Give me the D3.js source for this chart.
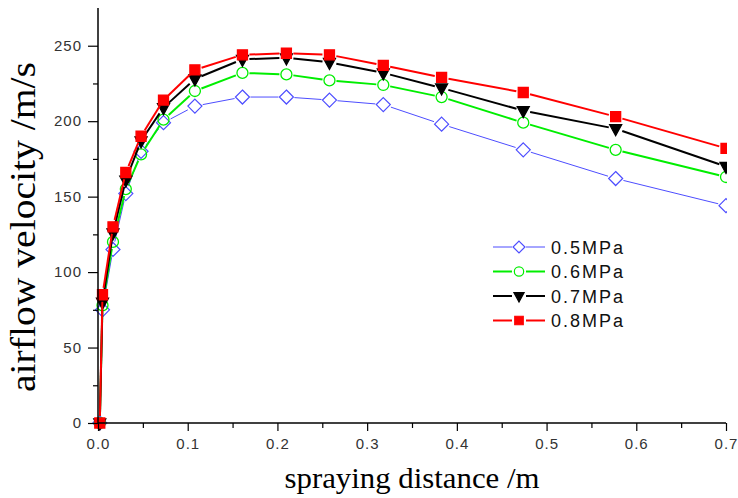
<!DOCTYPE html>
<html>
<head>
<meta charset="utf-8">
<script src="https://cdn.jsdelivr.net/npm/d3@7"></script>
<style>
  body { margin: 0; background: #fff; }
  svg { display: block; }
</style>
</head>
<body>
<div id="chart"></div>
<script>
// spraying distance (m)
const distance = [0.002, 0.005, 0.0167, 0.031, 0.048, 0.073, 0.108, 0.161, 0.21, 0.258, 0.318, 0.383, 0.474, 0.577, 0.7];

// airflow velocity (m/s) for each pressure
const v05 = [0, 75, 115, 152, 180, 199, 210, 216, 216, 214, 211, 198, 181, 162, 144];
const v06 = [0, 78, 120, 155, 178, 201, 220, 232, 231, 227, 224, 216, 199, 181, 163];
const v07 = [0, 80, 126, 161, 187, 209, 228, 241, 242, 239, 232, 222, 207, 195, 170];
const v08 = [0, 85, 130, 166, 190, 214, 234, 244, 245, 244, 237, 229, 219, 203, 182];

const seriesNames = ["0.5MPa", "0.6MPa", "0.7MPa", "0.8MPa"];
const seriesValues = [v05, v06, v07, v08];

const xTicks = [0, 0.1, 0.2, 0.3, 0.4, 0.5, 0.6, 0.7];
const yTicks = [0, 50, 100, 150, 200, 250];

const width = 738, height = 498;
const margin = {top: 8, right: 12, bottom: 75, left: 98};

const svg = d3.select("#chart").append("svg")
  .attr("width", width)
  .attr("height", height);

const x = d3.scaleLinear().domain([0, 0.7]).range([margin.left, width - margin.right]);
const y = d3.scaleLinear().domain([0, 275]).range([height - margin.bottom, margin.top]);

// marker shapes (origin-like)
const styles = [
  {color: "#4d4dff", width: 1, gap: 8, marker: "diamond", fill: "none"},
  {color: "#00ee00", width: 2, gap: 7, marker: "circle", fill: "none"},
  {color: "#000000", width: 2, gap: 7, marker: "triangle", fill: "#000"},
  {color: "#ff0000", width: 2, gap: 7, marker: "square", fill: "#ff0000"}
];

function markerPath(type, s) {
  if (type === "diamond") return `M0,${-7*s}L${7*s},0L0,${7*s}L${-7*s},0Z`;
  if (type === "square") return `M${-5*s},${-5*s}H${5*s}V${5*s}H${-5*s}Z`;
  if (type === "triangle") return `M${-6*s},${-4*s}L${6*s},${-4*s}L0,${7*s}Z`;
  const r = 5.5 * s;
  return `M${r},0A${r},${r} 0 1,1 ${-r},0A${r},${r} 0 1,1 ${r},0Z`;
}

svg.append("clipPath").attr("id", "plotclip")
  .append("rect")
  .attr("x", 0).attr("y", 0)
  .attr("width", x(0.7) + 1).attr("height", height);

const plot = svg.append("g").attr("clip-path", "url(#plotclip)");

seriesValues.forEach((vals, si) => {
  const st = styles[si];
  const pts = distance.map((d, i) => [x(d), y(vals[i])]);
  const g = plot.append("g");

  // line segments broken around the markers
  const segs = [];
  for (let i = 0; i < pts.length - 1; i++) {
    const [x0, y0] = pts[i], [x1, y1] = pts[i + 1];
    const len = Math.hypot(x1 - x0, y1 - y0);
    if (len <= st.gap * 2) continue;
    const ux = (x1 - x0) / len, uy = (y1 - y0) / len;
    segs.push([x0 + ux * st.gap, y0 + uy * st.gap, x1 - ux * st.gap, y1 - uy * st.gap]);
  }
  g.selectAll("line").data(segs).join("line")
    .attr("x1", d => d[0]).attr("y1", d => d[1])
    .attr("x2", d => d[2]).attr("y2", d => d[3])
    .attr("stroke", st.color)
    .attr("stroke-width", st.width);

  g.selectAll("path").data(pts).join("path")
    .attr("transform", d => `translate(${d[0]},${d[1]})`)
    .attr("d", markerPath(st.marker, 1))
    .attr("fill", st.fill)
    .attr("stroke", st.color)
    .attr("stroke-width", st.marker === "diamond" ? 1.2 : 1.3);
});

// axes
const xAxis = d3.axisBottom(x).tickValues(xTicks).tickFormat(d3.format(".1f")).tickSize(8).tickPadding(7);
const xMinor = d3.axisBottom(x).tickValues(d3.range(0.05, 0.7, 0.1)).tickSize(5).tickFormat("");
const yAxis = d3.axisLeft(y).tickValues(yTicks).tickSize(10).tickPadding(6);
const yMinor = d3.axisLeft(y).tickValues(d3.range(25, 275, 50)).tickSize(5).tickFormat("");

function styleAxis(g) {
  g.select(".domain").attr("stroke", "#000").attr("stroke-width", 1.5);
  g.selectAll(".tick line").attr("stroke", "#000").attr("stroke-width", 1.2);
  g.selectAll("text")
    .attr("fill", "#333")
    .style("font-family", "Liberation Sans, Arial, sans-serif")
    .style("font-size", "15px")
    .style("letter-spacing", "1px");
}

svg.append("g").attr("transform", `translate(0,${y(0)})`).call(xAxis).call(styleAxis)
  .call(g => g.select(".domain").attr("d", `M${x(0)},0H${x(0.7)}`));
svg.append("g").attr("transform", `translate(0,${y(0)})`).call(xMinor).call(styleAxis)
  .call(g => g.select(".domain").remove());
svg.append("g").attr("transform", `translate(${x(0)},0)`).call(yAxis).call(styleAxis)
  .call(g => g.select(".domain").attr("d", `M0,${y(0)}V${y(275)}`));
svg.append("g").attr("transform", `translate(${x(0)},0)`).call(yMinor).call(styleAxis)
  .call(g => g.select(".domain").remove());

// axis titles
svg.append("text")
  .attr("x", 412).attr("y", 488)
  .attr("text-anchor", "middle")
  .style("font-family", "Liberation Serif, Times New Roman, serif")
  .style("font-size", "30px")
  .attr("textLength", 255)
  .attr("lengthAdjust", "spacingAndGlyphs")
  .text("spraying distance /m");

svg.append("text")
  .attr("transform", "translate(35,227) rotate(-90)")
  .attr("text-anchor", "middle")
  .style("font-family", "Liberation Serif, Times New Roman, serif")
  .style("font-size", "35px")
  .attr("textLength", 330)
  .attr("lengthAdjust", "spacingAndGlyphs")
  .text("airflow velocity /m/s");

// legend
const legend = svg.append("g").attr("transform", "translate(493,247)");
seriesNames.forEach((name, i) => {
  const st = styles[i];
  const row = legend.append("g").attr("transform", `translate(0,${i * 24.5})`);
  row.append("line").attr("x1", 0).attr("x2", 19).attr("y1", 0).attr("y2", 0)
    .attr("stroke", st.color).attr("stroke-width", st.width);
  row.append("line").attr("x1", 33).attr("x2", 52).attr("y1", 0).attr("y2", 0)
    .attr("stroke", st.color).attr("stroke-width", st.width);
  row.append("path")
    .attr("transform", "translate(26,0)")
    .attr("d", markerPath(st.marker, 0.85))
    .attr("fill", st.fill)
    .attr("stroke", st.color)
    .attr("stroke-width", 1.2);
  row.append("text")
    .attr("x", 58).attr("y", 6.5)
    .style("font-family", "Liberation Sans, Arial, sans-serif")
    .style("font-size", "18px")
    .style("letter-spacing", "2px")
    .attr("fill", "#111")
    .text(name);
});
</script>
</body>
</html>
